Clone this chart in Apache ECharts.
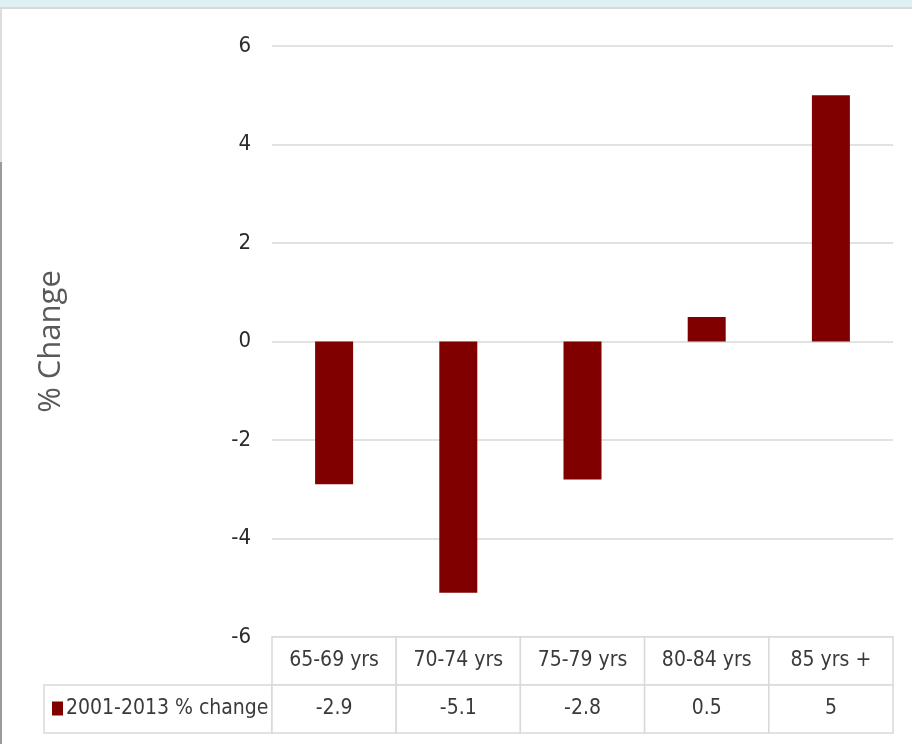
<!DOCTYPE html>
<html>
<head>
<meta charset="utf-8">
<script src="https://cdn.jsdelivr.net/npm/echarts@6/dist/echarts.min.js"></script>
<style>
  html, body { margin: 0; padding: 0; background: #ffffff; }
  #frame { position: relative; width: 912px; height: 744px; overflow: hidden; background: #ffffff; }
  #band { position: absolute; left: 0; top: 0; width: 912px; height: 7px; background: #dff0f5; border-bottom: 2px solid #d3dadc; }
  #edgeTop { position: absolute; left: 0; top: 9px; width: 2px; height: 153px; background: #dddddd; }
  #edgeLow { position: absolute; left: 0; top: 162px; width: 2px; height: 582px; background: #9a9a9a; }
  #chart { position: absolute; left: 0; top: 0; width: 912px; height: 744px; }
</style>
</head>
<body>
<div id="frame">
  <div id="chart"></div>
  <div id="band"></div>
  <div id="edgeTop"></div>
  <div id="edgeLow"></div>
</div>
<script>
// Age groups and the 2001-2013 percentage change for each
const categories = ['65-69 yrs', '70-74 yrs', '75-79 yrs', '80-84 yrs', '85 yrs +'];
const changeValues = [-2.9, -5.1, -2.8, 0.5, 5];
const seriesName = '2001-2013 % change';
const yTicks = { min: -6, max: 6, step: 2 };

const FONT = '"DejaVu Sans Condensed", "Liberation Sans", sans-serif';
const TEXT = '#3a3a3a';
const LINE = '#d9d9d9';
const BAR = '#800000';

// Data table cells: row 1 = category header, row 0 = values
const tableCells = [];
categories.forEach((c, i) => {
  tableCells.push([i, 1]);
  tableCells.push([i, 0]);
});

const chart = echarts.init(document.getElementById('chart'), null, { renderer: 'canvas' });

chart.setOption({
  animation: false,
  backgroundColor: 'transparent',
  grid: [
    { left: 272, top: 46, width: 621, height: 591 },
    { left: 272, top: 637, width: 621, height: 96 },
    { left: 44, top: 685, width: 228, height: 48, show: true, borderColor: LINE, borderWidth: 1.5, backgroundColor: 'transparent' }
  ],
  legend: {
    data: [seriesName],
    left: 52,
    top: 698,
    padding: 0,
    icon: 'rect',
    itemWidth: 11,
    itemHeight: 14,
    itemGap: 4,
    textStyle: { fontFamily: FONT, fontSize: 21, color: TEXT, padding: [0, 0, 0, -2] }
  },
  xAxis: [
    {
      type: 'category', gridIndex: 0, data: categories,
      axisLine: { show: false }, axisTick: { show: false }, axisLabel: { show: false },
      splitLine: { show: false }
    },
    {
      type: 'category', gridIndex: 1, data: categories,
      axisLine: { show: false }, axisTick: { show: false }, axisLabel: { show: false },
      splitLine: { show: false }
    },
    { type: 'value', gridIndex: 2, show: false }
  ],
  yAxis: [
    {
      type: 'value', gridIndex: 0,
      min: yTicks.min, max: yTicks.max, interval: yTicks.step,
      name: '% Change', nameLocation: 'middle', nameGap: 205,
      nameTextStyle: { fontFamily: '"Open Sans", "Noto Sans", sans-serif', fontSize: 31, color: '#595959' },
      axisLine: { show: false }, axisTick: { show: false },
      axisLabel: { fontFamily: FONT, fontSize: 22, color: '#2b2b2b', margin: 21 },
      splitLine: { lineStyle: { color: LINE, width: 1.5 } }
    },
    {
      type: 'category', gridIndex: 1, data: ['values', 'header'],
      show: false
    },
    { type: 'value', gridIndex: 2, show: false }
  ],
  series: [
    {
      name: seriesName,
      type: 'bar',
      xAxisIndex: 0, yAxisIndex: 0,
      data: changeValues,
      barWidth: 38,
      itemStyle: { color: BAR }
    },
    {
      name: 'table',
      type: 'custom',
      xAxisIndex: 1, yAxisIndex: 1,
      data: tableCells,
      silent: true,
      renderItem: function (params, api) {
        const xi = api.value(0);
        const yi = api.value(1);
        const center = api.coord([xi, yi]);
        const size = api.size([1, 1]);
        const text = yi === 1 ? categories[xi] : String(changeValues[xi]);
        return {
          type: 'group',
          children: [
            {
              type: 'rect',
              shape: { x: center[0] - size[0] / 2, y: center[1] - size[1] / 2, width: size[0], height: size[1] },
              style: { fill: '#ffffff', stroke: LINE, lineWidth: 1.5 }
            },
            {
              type: 'text',
              x: center[0], y: center[1],
              style: { text: text, fontFamily: FONT, fontSize: 21, fill: TEXT, align: 'center', verticalAlign: 'middle' }
            }
          ]
        };
      }
    }
  ]
});
</script>
</body>
</html>
